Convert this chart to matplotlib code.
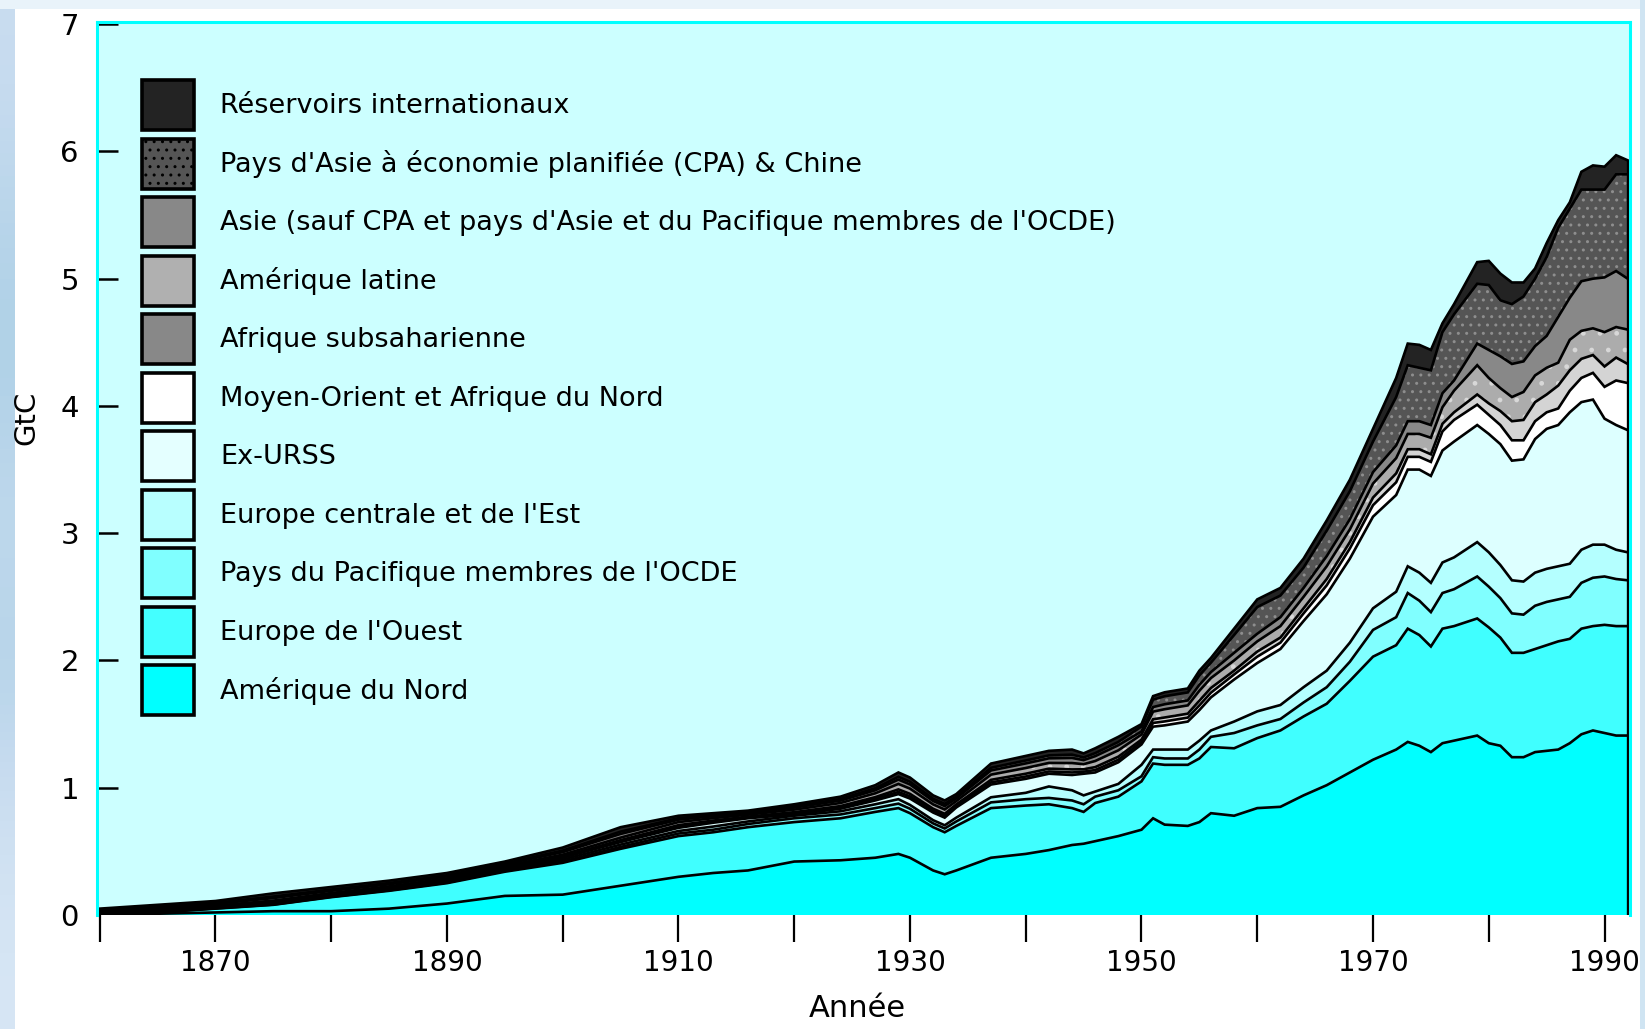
import numpy as np
import matplotlib
matplotlib.use("Agg")
import matplotlib.pyplot as plt
from matplotlib.patches import Patch, Rectangle
from matplotlib.ticker import FixedLocator

# ---------------- data (GtC per year) ----------------
years = [1860, 1865, 1870, 1875, 1880, 1885, 1890, 1895, 1900, 1905, 1910,
         1913, 1916, 1920, 1924, 1927, 1929, 1930, 1932, 1933, 1934, 1937, 1940,
         1942, 1944, 1945, 1946, 1948,
         1950, 1951, 1952, 1954, 1955, 1956, 1958,
         1960, 1962, 1964, 1966, 1968, 1970, 1972,
         1973, 1974, 1975, 1976, 1977,
         1979, 1980, 1981, 1982, 1983, 1984, 1985, 1986, 1987, 1988, 1989, 1990, 1991, 1992]

amerique_nord = [.005, .01, .02, .03, .03, .05, .09, .15, .16, .23, .30,
                 .33, .35, .42, .43, .45, .48, .45, .35, .32, .35, .45, .48,
                 .51, .55, .56, .58, .62,
                 .67, .76, .71, .70, .73, .80, .78,
                 .84, .85, .94, 1.02, 1.12, 1.22, 1.30,
                 1.36, 1.33, 1.28, 1.35, 1.37,
                 1.41, 1.35, 1.33, 1.24, 1.24, 1.28, 1.29, 1.30, 1.35, 1.42, 1.45, 1.43, 1.41, 1.41]

europe_ouest = [.005, .01, .03, .05, .11, .14, .16, .19, .25, .29, .32,
                .32, .34, .31, .33, .36, .36, .35, .34, .33, .35, .39, .38,
                .36, .29, .25, .30, .31,
                .38, .43, .47, .48, .50, .52, .53,
                .55, .60, .62, .64, .72, .81, .82,
                .89, .87, .83, .90, .90,
                .92, .91, .85, .82, .82, .81, .83, .85, .82, .83, .82, .85, .86, .86]

pacifique_ocde = [.000, .001, .002, .002, .003, .004, .005, .007, .010, .015, .020,
                  .020, .025, .030, .030, .030, .035, .035, .030, .030, .035, .045, .050,
                  .05, .06, .06, .05, .05,
                  .04, .05, .05, .05, .07, .08, .12,
                  .10, .09, .11, .13, .15, .21, .22,
                  .28, .27, .27, .28, .29,
                  .33, .32, .31, .31, .30, .34, .34, .33, .33, .36, .38, .38, .37, .36]

europe_centrale = [.002, .003, .004, .005, .007, .008, .010, .012, .015, .018, .020,
                   .025, .020, .020, .025, .030, .035, .030, .025, .025, .030, .040, .050,
                   .09, .08, .07, .04, .05,
                   .09, .06, .07, .07, .07, .05, .09,
                   .11, .11, .12, .13, .15, .17, .20,
                   .21, .22, .23, .24, .25,
                   .27, .27, .26, .26, .26, .26, .26, .26, .26, .26, .26, .25, .23, .22]

ex_urss = [.001, .001, .002, .002, .003, .004, .005, .010, .015, .020, .025,
           .030, .025, .010, .020, .030, .040, .050, .060, .060, .080, .100, .110,
           .10, .12, .17, .15, .17,
           .16, .18, .19, .22, .24, .26, .33,
           .38, .44, .52, .60, .66, .72, .76,
           .76, .81, .84, .88, .91,
           .92, .93, .95, .94, .96, 1.05, 1.10, 1.11, 1.19, 1.16, 1.14, .99, .98, .96]

moyen_orient = [.002, .003, .003, .004, .003, .003, .003, .003, .004, .006, .010,
                .008, .006, .008, .010, .012, .017, .017, .014, .014, .011, .017, .018,
                .018, .020, .016, .019, .020,
                .019, .029, .031, .031, .037, .037, .04,
                .05, .05, .06, .07, .08, .09, .10,
                .10, .10, .11, .15, .17,
                .16, .15, .15, .16, .15, .14, .13, .13, .17, .19, .21, .25, .35, .37]

afrique_subsaharienne = [.003, .004, .004, .006, .005, .005, .005, .004, .006, .009, .011,
                         .009, .007, .010, .011, .014, .020, .020, .016, .016, .013, .020, .022,
                         .022, .024, .019, .023, .024,
                         .019, .029, .031, .031, .037, .037, .03,
                         .04, .04, .04, .05, .05, .06, .07,
                         .06, .06, .06, .06, .06,
                         .08, .09, .11, .15, .16, .15, .14, .18, .16, .15, .14, .16, .18, .15]

amerique_latine = [.006, .009, .009, .014, .012, .011, .010, .009, .014, .020, .024,
                   .019, .015, .020, .024, .030, .043, .041, .034, .034, .026, .041, .045,
                   .045, .050, .040, .048, .050,
                   .040, .060, .065, .065, .078, .078, .08,
                   .08, .09, .09, .10, .10, .11, .12,
                   .12, .12, .13, .13, .17,
                   .23, .20, .18, .19, .22, .21, .21, .18, .24, .22, .21, .27, .24, .27]

asie = [.008, .014, .013, .020, .017, .016, .015, .013, .020, .029, .019,
        .015, .012, .016, .019, .024, .034, .033, .027, .027, .021, .033, .036,
        .036, .040, .032, .038, .040,
        .024, .036, .039, .039, .047, .047, .06,
        .06, .07, .07, .08, .08, .09, .10,
        .10, .10, .10, .11, .08,
        .17, .22, .25, .26, .24, .23, .25, .36, .33, .39, .39, .43, .44, .40]

asie_cpa_chine = [.006, .008, .008, .012, .010, .010, .009, .007, .012, .018, .012,
                  .010, .008, .010, .012, .016, .022, .021, .017, .017, .013, .021, .023,
                  .023, .026, .021, .024, .026,
                  .039, .058, .063, .063, .074, .074, .14,
                  .21, .17, .16, .20, .22, .24, .38,
                  .44, .42, .43, .48, .52,
                  .47, .51, .44, .47, .51, .53, .62, .70, .70, .72, .70, .69, .76, .82]

reservoirs = [.012, .017, .015, .025, .020, .019, .018, .015, .024, .035, .019,
              .014, .012, .016, .019, .024, .034, .033, .027, .027, .021, .033, .036,
              .036, .040, .032, .038, .040,
              .019, .028, .031, .031, .037, .037, .05,
              .06, .06, .07, .08, .09, .10, .15,
              .17, .18, .16, .07, .08,
              .17, .19, .21, .17, .11, .08, .11, .06, .05, .14, .19, .18, .15, .11]

labels = ["Amérique du Nord",
          "Europe de l'Ouest",
          "Pays du Pacifique membres de l'OCDE",
          "Europe centrale et de l'Est",
          "Ex-URSS",
          "Moyen-Orient et Afrique du Nord",
          "Afrique subsaharienne",
          "Amérique latine",
          "Asie (sauf CPA et pays d'Asie et du Pacifique membres de l'OCDE)",
          "Pays d'Asie à économie planifiée (CPA) & Chine",
          "Réservoirs internationaux"]

y_ticks = [0, 1, 2, 3, 4, 5, 6, 7]
x_major = [1870, 1890, 1910, 1930, 1950, 1970, 1990]
x_minor = [1860, 1880, 1900, 1920, 1940, 1960, 1980]

series = [amerique_nord, europe_ouest, pacifique_ocde, europe_centrale, ex_urss,
          moyen_orient, afrique_subsaharienne, amerique_latine, asie,
          asie_cpa_chine, reservoirs]

fill_colors = ["#00ffff", "#40ffff", "#80ffff", "#b4ffff", "#ddffff",
               "#ffffff", "#d4d4d4", "#acacac", "#888888", "#555555", "#232323"]
legend_colors = ["#00ffff", "#44ffff", "#80ffff", "#b8ffff", "#e4ffff",
                 "#ffffff", "#888888", "#b0b0b0", "#888888", "#555555", "#232323"]

# ---------------- figure ----------------
W, H = 1645, 1029
fig = plt.figure(figsize=(W / 100, H / 100), dpi=100)
fig.patch.set_facecolor("white")

# background frame (light sky strips around a white page)
bg = fig.add_axes([0, 0, 1, 1], zorder=-10)
bg.set_xlim(0, W)
bg.set_ylim(0, H)
bg.set_axis_off()
grad = np.array([[0.80], [0.74], [0.70], [0.78], [0.72], [0.82], [0.88]])
bg.imshow(grad, extent=(0, 15, 0, H), aspect="auto", cmap="Blues_r", vmin=0.0, vmax=1.05,
          interpolation="bicubic")
bg.add_patch(Rectangle((0, H - 9), W, 9, color="#e9f3fa", lw=0))
bg.add_patch(Rectangle((1640, 0), 5, H, color="#cfe4f2", lw=0))

ax = fig.add_axes([97 / W, 114 / H, 1533 / W, 893.4 / H])
ax.set_facecolor("#ccffff")

x = np.array(years, dtype=float)
data = np.array(series, dtype=float)
cum = np.cumsum(data, axis=0)

polys = ax.stackplot(x, *data, colors=fill_colors, linewidth=0, zorder=1)

# texture dots on CPA & Chine and Latin America
ax.fill_between(x, cum[8], cum[9], facecolor="none", edgecolor="#8e8e8e",
                linewidth=0, hatch="..", zorder=1.2)
ax.fill_between(x, cum[6], cum[7], facecolor="none", edgecolor="#d8d8d8",
                linewidth=0, hatch=".", zorder=1.2)

for i in range(len(series)):
    ax.plot(x, cum[i], color="black", lw=1.9, zorder=2, solid_joinstyle="miter")
ax.vlines(x[-1], 0, cum[-1][-1], color="black", lw=2.4, zorder=2)

ax.set_xlim(1859.77, 1992.2)
ax.set_ylim(0, 7.02)

ax.set_yticks(y_ticks)
ax.set_yticklabels([str(v) for v in y_ticks])
ax.xaxis.set_major_locator(FixedLocator(x_major))
ax.xaxis.set_minor_locator(FixedLocator(x_minor))
ax.set_xticklabels([str(v) for v in x_major])

ax.tick_params(axis="y", direction="in", length=15, width=1.8, pad=13,
               labelsize=21, color="black", left=True, right=False)
ax.tick_params(axis="x", which="both", direction="out", length=19.5, width=1.6,
               pad=5, labelsize=20, color="black")
ax.yaxis.get_major_ticks()[0].tick1line.set_visible(False)

for s in ["left", "top", "right"]:
    ax.spines[s].set_color("#00ffff")
    ax.spines[s].set_linewidth(2.2)
ax.spines["bottom"].set_visible(False)

ax.set_xlabel("Année", fontsize=22)
ax.xaxis.set_label_coords(0.496, -0.088)
ax.set_ylabel("GtC", fontsize=21)
ax.yaxis.set_label_coords(-0.037, 0.556)

# legend (top entry first)
handles = []
for i in reversed(range(len(series))):
    h = Patch(facecolor=legend_colors[i], edgecolor="black", linewidth=2.6,
              hatch=(".." if i == 9 else None))
    handles.append(h)
leg = ax.legend(handles, list(reversed(labels)), loc="upper left",
                bbox_to_anchor=(0.0294, 0.9346), frameon=False, fontsize=19.5,
                handlelength=1.92, handleheight=2.47, labelspacing=0.31,
                handletextpad=0.96, borderpad=0, borderaxespad=0)

fig.savefig("out.png", dpi=100, facecolor=fig.get_facecolor())
